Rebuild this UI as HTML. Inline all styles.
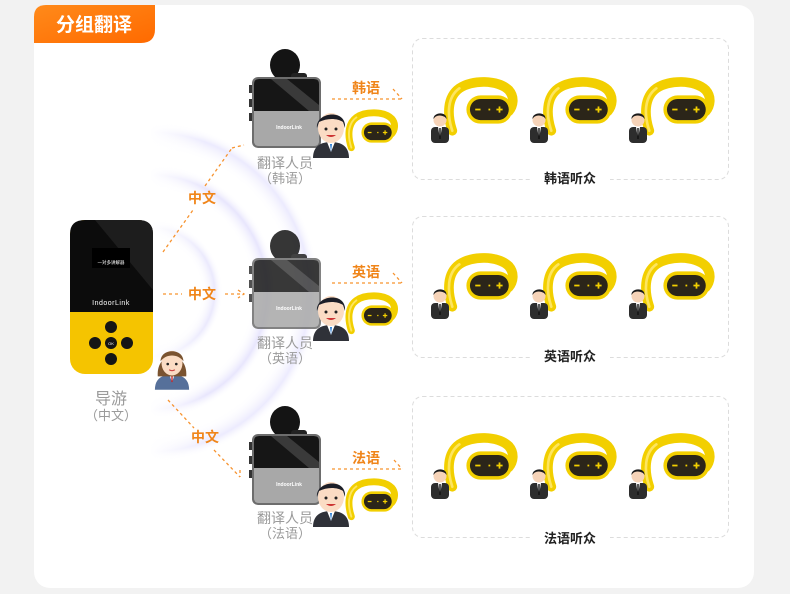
<!DOCTYPE html>
<html><head><meta charset="utf-8"><style>
html,body{margin:0;padding:0;background:#f2f2f2;}
body{width:790px;height:594px;overflow:hidden;position:relative;font-family:"Liberation Sans","Noto Sans CJK SC",sans-serif;}
svg{position:absolute;left:0;top:0;}
</style></head><body>
<svg width="790" height="594" viewBox="0 0 790 594" xmlns="http://www.w3.org/2000/svg" font-family="Liberation Sans, Noto Sans CJK SC, sans-serif">
<defs>
<linearGradient id="tab" x1="0" y1="0" x2="1" y2="1"><stop offset="0" stop-color="#ff8a1a"/><stop offset="1" stop-color="#ff6a00"/></linearGradient>
<radialGradient id="wave" cx="150" cy="292" r="170" gradientUnits="userSpaceOnUse">
<stop offset="0.3" stop-color="#ffffff" stop-opacity="0"/><stop offset="0.38" stop-color="#e2e0fc" stop-opacity="0.7"/><stop offset="0.43" stop-color="#ffffff" stop-opacity="0"/>
<stop offset="0.6" stop-color="#ffffff" stop-opacity="0"/><stop offset="0.69" stop-color="#dedbfc" stop-opacity="0.7"/><stop offset="0.75" stop-color="#ffffff" stop-opacity="0"/>
<stop offset="0.83" stop-color="#ffffff" stop-opacity="0"/><stop offset="0.94" stop-color="#e4e2fd" stop-opacity="0.7"/><stop offset="1" stop-color="#ffffff" stop-opacity="0"/>
</radialGradient>
<linearGradient id="fade" x1="0" y1="0" x2="1" y2="0"><stop offset="0" stop-color="#fff" stop-opacity="1"/><stop offset="0.35" stop-color="#fff" stop-opacity="0"/></linearGradient>
<symbol id="ear" viewBox="-4 -4 92 68">
<path d="M14 58 C8 40 8 20 22 10 C36 0 66 0 78 12 C85 20 83 30 78 36" fill="none" stroke="#f2cf00" stroke-width="11" stroke-linecap="round"/>
<path d="M14 58 C8 40 8 20 22 10" fill="none" stroke="#fde560" stroke-width="3" stroke-linecap="round"/>
<rect x="30" y="18" width="52" height="32" rx="16" fill="#f2cf00"/>
<rect x="34" y="22" width="44" height="24" rx="12" fill="#2b2519"/>
<rect x="40" y="33" width="6" height="2" fill="#f2cf00"/>
<rect x="55" y="33" width="2" height="2" fill="#f2cf00"/>
<rect x="64" y="33" width="7" height="2" fill="#f2cf00"/><rect x="66.5" y="30.5" width="2" height="7" fill="#f2cf00"/>
</symbol>
<symbol id="aud" viewBox="0 0 22 34">
<rect x="2" y="18" width="18" height="16" rx="4" fill="#2d2d2d"/>
<path d="M9 18 L11 30 L13 18Z" fill="#fff"/><rect x="10.3" y="19" width="1.4" height="11" fill="#111"/>
<circle cx="11" cy="11" r="6.5" fill="#f6d3b8"/>
<path d="M4.5 10 C4 3 18 2 17.5 10 L16 8 C12 6 9 6 6 8Z" fill="#1a1a1a"/>
</symbol>
<symbol id="man" viewBox="0 0 40 52">
<path d="M2 52 C2 40 10 36 20 36 C30 36 38 40 38 52Z" fill="#2f3138"/>
<path d="M16 36 L20 46 L24 36Z" fill="#fff"/><path d="M19 38 L20 46 L21 38Z" fill="#2a7bd2"/>
<ellipse cx="20" cy="22" rx="13" ry="15" fill="#fbdcc4"/>
<path d="M6 22 C4 6 36 2 34 22 L32 16 C26 12 16 12 8 16Z" fill="#1c1e27"/>
<circle cx="15" cy="23" r="1.5" fill="#222"/><circle cx="25" cy="23" r="1.5" fill="#222"/>
<path d="M15 29 Q20 33 25 29" fill="#c33" />
</symbol>
<symbol id="woman" viewBox="0 0 40 52">
<path d="M2 52 C2 40 10 36 20 36 C30 36 38 40 38 52Z" fill="#56709a"/>
<path d="M17 36 L20 44 L23 36Z" fill="#fff"/><rect x="19.3" y="37" width="1.4" height="7" fill="#c22"/>
<path d="M5 38 C3 10 37 10 35 38Z" fill="#7a5330"/>
<ellipse cx="20" cy="24" rx="11" ry="13" fill="#fbdcc4"/>
<path d="M8 22 C8 8 32 8 32 22 C26 14 14 14 8 22Z" fill="#7a5330"/>
<circle cx="15.5" cy="25" r="1.4" fill="#222"/><circle cx="24.5" cy="25" r="1.4" fill="#222"/>
<path d="M17 31 Q20 33 23 31" fill="none" stroke="#c44" stroke-width="1.2"/>
</symbol>
<symbol id="dev" viewBox="0 0 72 100">
<ellipse cx="36" cy="16" rx="15" ry="16" fill="#141414"/>
<rect x="42" y="24" width="16" height="8" rx="3" fill="#222"/>
<rect x="0" y="36" width="4" height="8" fill="#333"/><rect x="0" y="50" width="4" height="8" fill="#333"/><rect x="0" y="64" width="4" height="8" fill="#333"/>
<rect x="3" y="28" width="69" height="71" rx="6" fill="#6d6d6d"/>
<rect x="5" y="30" width="65" height="67" rx="5" fill="#9a9a9a"/>
<path d="M5 35 Q5 30 10 30 L65 30 Q70 30 70 35 L70 62 L5 62Z" fill="#161616"/>
<path d="M22 30 L38 30 L70 56 L70 62 L60 62Z" fill="#4a4a4a" opacity="0.7"/>
<path d="M5 62 L70 62 L70 92 Q70 97 65 97 L10 97 Q5 97 5 92Z" fill="#a8a8a8"/>
<text x="40" y="80" font-size="5" fill="#fff" text-anchor="middle" font-weight="bold">IndoorLink</text>
</symbol>
</defs>

<rect x="34" y="5" width="720" height="583" rx="16" fill="#fff"/>
<path d="M34 43 L34 17 Q34 5 46 5 L155 5 L155 29 Q155 43 141 43Z" fill="url(#tab)"/>
<text x="94" y="31" font-size="19" font-weight="bold" fill="#fff" text-anchor="middle">分组翻译</text>

<path d="M150 120 A172 172 0 0 1 150 464 Z" fill="url(#wave)"/>
<rect x="150" y="110" width="160" height="370" fill="url(#fade)"/>

<rect x="70" y="220" width="83" height="154" rx="15" fill="#f5c400"/>
<path d="M70 312 L70 234 Q70 220 85 220 L138 220 Q153 220 153 234 L153 312Z" fill="#0c0c0c"/>
<path d="M95 220 L138 220 Q153 220 153 234 L153 290Z" fill="#1d1d1d"/>
<rect x="92" y="248" width="38" height="20" fill="#000"/>
<text x="111" y="264" font-size="4.5" fill="#fff" text-anchor="middle">一对多讲解器</text>
<text x="111" y="305" font-size="7" fill="#fff" text-anchor="middle" letter-spacing="0.5">IndoorLink</text>
<circle cx="111" cy="327" r="6" fill="#151515"/><circle cx="111" cy="343" r="6" fill="#151515"/><circle cx="111" cy="359" r="6" fill="#151515"/>
<circle cx="95" cy="343" r="6" fill="#151515"/><circle cx="127" cy="343" r="6" fill="#151515"/>
<text x="111" y="345" font-size="4" fill="#fff" text-anchor="middle">OK</text>
<text x="111" y="404" font-size="16" fill="#9a9a9a" text-anchor="middle">导游</text>
<text x="111" y="420" font-size="13" fill="#9a9a9a" text-anchor="middle">（中文）</text>
<use href="#woman" x="153" y="340" width="38" height="50"/>

<g stroke="#f7932f" stroke-width="1.3" stroke-dasharray="3,3" fill="none">
<line x1="163" y1="252" x2="193" y2="210"/><line x1="205" y1="186" x2="232" y2="148"/><polyline points="232,148 244,145"/>
<line x1="163" y1="294" x2="182" y2="294"/><line x1="225" y1="294" x2="244" y2="294"/><polyline points="238,290 244,294 238,298"/>
<line x1="168" y1="400" x2="194" y2="428"/><line x1="214" y1="450" x2="240" y2="477"/><polyline points="240,470 240,477"/>
<line x1="332" y1="99" x2="402" y2="99"/><polyline points="393,89 402,99"/>
<line x1="332" y1="283" x2="402" y2="283"/><polyline points="393,273 402,283"/>
<line x1="332" y1="469" x2="402" y2="469"/><polyline points="394,460 402,469"/>
</g>
<g font-size="14" font-weight="bold" fill="#f08519" text-anchor="middle">
<text x="202" y="203">中文</text><text x="202" y="299">中文</text><text x="205" y="442">中文</text>
<text x="366" y="93">韩语</text><text x="366" y="277">英语</text><text x="366" y="463">法语</text>
</g>

<use href="#dev" x="249" y="49" width="72" height="100"/>
<use href="#dev" x="249" y="230" width="72" height="100" opacity="0.85"/>
<use href="#dev" x="249" y="406" width="72" height="100"/>
<use href="#man" x="311" y="106" width="40" height="52"/>
<use href="#man" x="311" y="289" width="40" height="52"/>
<use href="#man" x="311" y="475" width="40" height="52"/>
<use href="#ear" x="340" y="108" width="58" height="44"/>
<use href="#ear" x="340" y="291" width="58" height="44"/>
<use href="#ear" x="340" y="477" width="58" height="44"/>
<g fill="#9a9a9a" text-anchor="middle">
<text x="285" y="168" font-size="14">翻译人员</text><text x="285" y="183" font-size="13">（韩语）</text>
<text x="285" y="348" font-size="14">翻译人员</text><text x="285" y="363" font-size="13">（英语）</text>
<text x="285" y="523" font-size="14">翻译人员</text><text x="285" y="538" font-size="13">（法语）</text>
</g>

<g fill="none" stroke="#dcdcdc" stroke-dasharray="4,3">
<rect x="412.5" y="38.5" width="316" height="141" rx="10"/>
<rect x="412.5" y="216.5" width="316" height="141" rx="10"/>
<rect x="412.5" y="396.5" width="316" height="141" rx="10"/>
</g>
<g fill="#fff"><rect x="530" y="170" width="80" height="16"/><rect x="530" y="348" width="80" height="16"/><rect x="530" y="528" width="80" height="16"/></g>
<g font-size="13" font-weight="bold" fill="#222" text-anchor="middle">
<text x="570" y="183">韩语听众</text><text x="570" y="361">英语听众</text><text x="570" y="543">法语听众</text>
</g>
<g>
<use href="#ear" x="436" y="76" width="82" height="60"/><use href="#ear" x="535" y="76" width="82" height="60"/><use href="#ear" x="633" y="76" width="82" height="60"/>
<use href="#ear" x="436" y="252" width="82" height="60"/><use href="#ear" x="535" y="252" width="82" height="60"/><use href="#ear" x="633" y="252" width="82" height="60"/>
<use href="#ear" x="436" y="432" width="82" height="60"/><use href="#ear" x="535" y="432" width="82" height="60"/><use href="#ear" x="633" y="432" width="82" height="60"/>
<use href="#aud" x="429" y="108" width="22" height="36"/><use href="#aud" x="528" y="108" width="22" height="36"/><use href="#aud" x="627" y="108" width="22" height="36"/>
<use href="#aud" x="429" y="284" width="22" height="36"/><use href="#aud" x="528" y="284" width="22" height="36"/><use href="#aud" x="627" y="284" width="22" height="36"/>
<use href="#aud" x="429" y="464" width="22" height="36"/><use href="#aud" x="528" y="464" width="22" height="36"/><use href="#aud" x="627" y="464" width="22" height="36"/>
</g>
</svg>
</body></html>
